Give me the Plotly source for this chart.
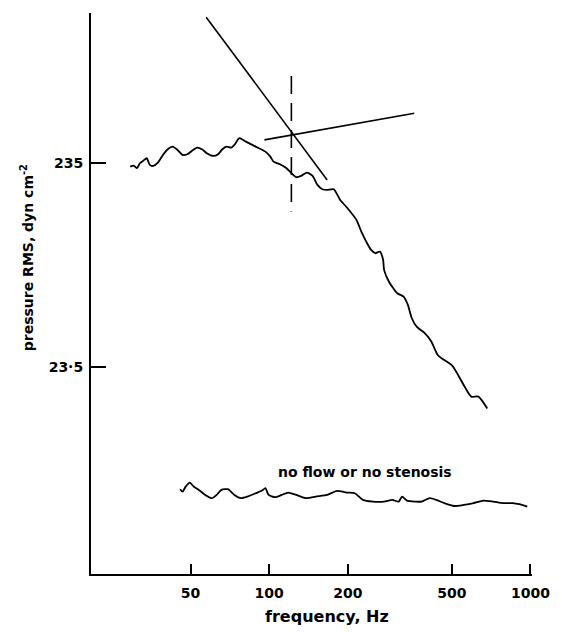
import math
import plotly.graph_objects as go

# ---- data ----
stenosis_freq = [29.4, 30.3, 31.2, 32.0, 33.0, 34.0, 34.9, 36.0, 37.5, 39.2, 40.9, 42.7, 44.6, 46.6,
                 48.6, 50.7, 53.0, 55.3, 57.7, 61.1, 63.8, 66.2, 68.6, 71.6, 73.6, 76.9, 81.4, 88.8,
                 96.7, 101.0, 103.9, 110.0, 116.5, 121.6, 126.9, 132.6, 139.5, 146.6, 153.0, 159.7,
                 166.7, 176.7, 186.9, 198.0, 215.8, 225.3, 235.2, 245.6, 254.8, 265.3, 273.0, 275.3,
                 287.4, 309.0, 326.9, 339.6, 351.5, 366.9, 394.0, 417.4, 441.8, 468.0, 502.8, 532.6,
                 564.2, 593.9, 632.5, 683.4]
stenosis_rms = [225.4, 228.0, 221.4, 234.2, 241.2, 247.9, 229.8, 227.2, 235.8, 257.2, 274.3, 282.5,
                272.1, 257.2, 259.2, 270.0, 279.3, 274.3, 262.2, 254.3, 259.2, 274.3, 282.5, 279.3,
                287.9, 310.6, 298.9, 282.5, 267.0, 252.3, 238.5, 231.6, 221.4, 209.3, 200.0, 203.0,
                210.7, 203.0, 183.4, 174.7, 173.3, 174.7, 154.8, 142.5, 123.5, 108.2, 96.7, 88.0,
                84.8, 86.4, 78.6, 70.3, 61.5, 54.0, 52.0, 47.3, 40.7, 37.0, 34.4, 31.3, 26.9, 25.4,
                23.8, 21.1, 18.5, 16.8, 16.8, 14.7]

noflow_freq = [45.6, 46.6, 47.9, 49.7, 51.4, 53.7, 56.9, 60.3, 62.9, 65.7, 69.5, 73.6, 78.0, 82.6,
               88.8, 93.9, 96.7, 99.5, 105.4, 111.6, 118.2, 126.9, 138.3, 150.8, 166.7, 181.7,
               198.0, 212.7, 228.6, 249.2, 275.3, 295.9, 313.3, 322.6, 336.8, 361.6, 383.1, 411.5,
               435.8, 468.0, 510.2, 556.1, 605.8, 660.3, 719.6, 784.6, 855.1, 905.7, 972.6]
noflow_rms = [5.91, 5.75, 6.09, 6.37, 6.09, 5.87, 5.54, 5.34, 5.54, 5.87, 5.91, 5.54, 5.34, 5.44,
              5.65, 5.82, 5.98, 5.54, 5.40, 5.54, 5.69, 5.54, 5.34, 5.44, 5.54, 5.80, 5.69, 5.65,
              5.24, 5.14, 5.14, 5.24, 5.14, 5.44, 5.20, 5.14, 5.14, 5.34, 5.24, 5.05, 4.89, 4.95,
              5.05, 5.20, 5.14, 5.05, 5.05, 4.99, 4.86]

slope_high_freq = [57.4, 166.7]
slope_high_rms = [1217, 194.0]
slope_low_freq = [95.9, 359.4]
slope_low_rms = [304.7, 411.8]
break_freq = [121.6, 121.6]
break_rms = [627.5, 135.7]

x_ticks = [50, 100, 200, 500, 1000]
x_ticklabels = ["50", "100", "200", "500", "1000"]
y_ticks = [23.5, 235]
y_ticklabels = ["23·5", "235"]

label_freq, label_rms = 232, 7.2

FONT = "DejaVu Sans"
fig = go.Figure()
fig.add_trace(go.Scatter(x=stenosis_freq, y=stenosis_rms, mode="lines",
                         line=dict(color="black", width=1.8, shape="spline", smoothing=0.6)))
fig.add_trace(go.Scatter(x=noflow_freq, y=noflow_rms, mode="lines",
                         line=dict(color="black", width=1.8, shape="spline", smoothing=0.6)))
fig.add_trace(go.Scatter(x=slope_high_freq, y=slope_high_rms, mode="lines",
                         line=dict(color="black", width=1.6)))
fig.add_trace(go.Scatter(x=slope_low_freq, y=slope_low_rms, mode="lines",
                         line=dict(color="black", width=1.6)))
fig.add_trace(go.Scatter(x=break_freq, y=break_rms, mode="lines",
                         line=dict(color="black", width=1.6, dash="18px,9px")))

fig.add_annotation(x=math.log10(label_freq), y=math.log10(label_rms), xref="x", yref="y",
                   text="<b>no flow or no stenosis</b>", showarrow=False,
                   xanchor="center", yanchor="middle",
                   font=dict(family=FONT, size=14, color="black"))
fig.add_annotation(x=0.5345, y=-0.075, xref="paper", yref="paper", text="<b>frequency, Hz</b>",
                   showarrow=False, xanchor="center", yanchor="middle",
                   font=dict(family=FONT, size=16, color="black"))
fig.add_annotation(x=-0.145, y=0.563, xref="paper", yref="paper",
                   text="<b>pressure RMS, dyn cm<sup>-2</sup></b>", textangle=-90,
                   showarrow=False, xanchor="center", yanchor="middle",
                   font=dict(family=FONT, size=14, color="black"))

fig.update_layout(
    width=562, height=632,
    margin=dict(l=91, r=22, t=13, b=58),
    paper_bgcolor="white", plot_bgcolor="white",
    showlegend=False,
    font=dict(family=FONT, size=14, color="black"),
    xaxis=dict(type="log", range=[1.318, 3.006], tickvals=x_ticks,
               ticktext=["<b>%s</b>" % t for t in x_ticklabels],
               ticks="inside", ticklen=10, tickwidth=1.5, tickcolor="black",
               showline=True, linewidth=2, linecolor="black", showgrid=False, zeroline=False,
               ticklabelstandoff=5),
    yaxis=dict(type="log", range=[0.356, 3.106], tickvals=y_ticks,
               ticktext=["<b>%s</b>" % t for t in y_ticklabels],
               ticks="inside", ticklen=15, tickwidth=1.5, tickcolor="black",
               showline=True, linewidth=2, linecolor="black", showgrid=False, zeroline=False,
               ticklabelstandoff=3),
)
fig.write_html("out.html")
